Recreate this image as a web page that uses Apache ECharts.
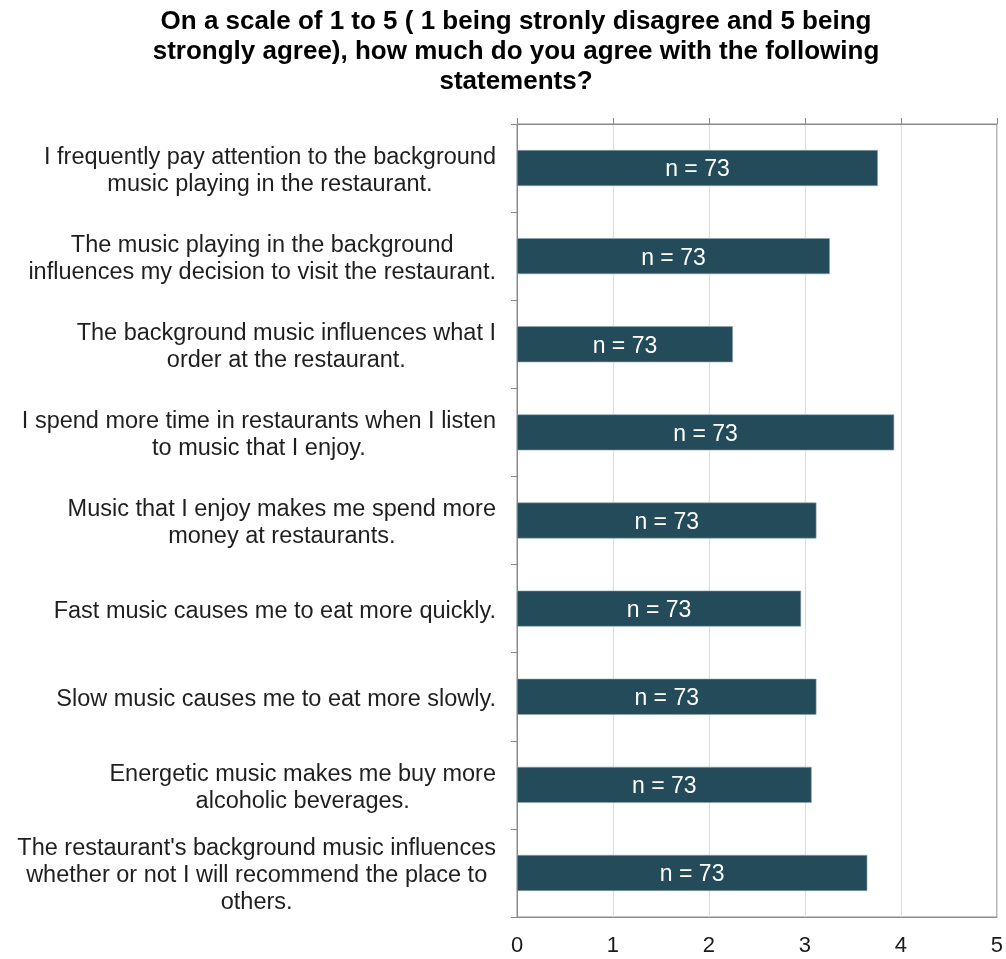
<!DOCTYPE html>
<html>
<head>
<meta charset="utf-8">
<script src="https://cdn.jsdelivr.net/npm/echarts@6/dist/echarts.min.js"></script>
<style>
  html, body { margin: 0; padding: 0; background: #fff; }
  #chart { width: 1006px; height: 959px; }
</style>
</head>
<body>
<div id="chart"></div>
<script>
// statements, top to bottom
var statements = [
    "I frequently pay attention to the background\nmusic playing in the restaurant.",
    "The music playing in the background\ninfluences my decision to visit the restaurant.",
    "The background music influences what I\norder at the restaurant.",
    "I spend more time in restaurants when I listen\nto music that I enjoy.",
    "Music that I enjoy makes me spend more\nmoney at restaurants.",
    "Fast music causes me to eat more quickly.",
    "Slow music causes me to eat more slowly.",
    "Energetic music makes me buy more\nalcoholic beverages.",
    "The restaurant's background music influences\nwhether or not I will recommend the place to\nothers."
];
// mean agreement score
var means = [3.76, 3.26, 2.25, 3.93, 3.12, 2.96, 3.12, 3.07, 3.65];
var respondents = [73, 73, 73, 73, 73, 73, 73, 73, 73];
var xTicks = [0, 1, 2, 3, 4, 5];

var chart = echarts.init(document.getElementById('chart'));
var font = "'Liberation Sans', Arial, sans-serif";
var axisGrey = '#8a8a8a';

chart.setOption({
    animation: false,
    textStyle: { fontFamily: font },
    title: {
        text: "On a scale of 1 to 5 ( 1 being stronly disagree and 5 being\nstrongly agree), how much do you agree with the following\nstatements?",
        left: 511,
        top: 2,
        textAlign: 'center',
        textStyle: {
            fontFamily: font,
            fontSize: 26,
            fontWeight: 'bold',
            color: '#000',
            lineHeight: 30
        }
    },
    grid: {
        left: 517,
        right: 7,
        top: 124,
        bottom: 42,
        show: true,
        borderColor: axisGrey,
        borderWidth: 1
    },
    xAxis: [{
        type: 'value',
        min: xTicks[0],
        max: xTicks[xTicks.length - 1],
        interval: 1,
        position: 'bottom',
        axisLine: { show: true, lineStyle: { color: axisGrey } },
        axisTick: { show: false },
        splitLine: { show: true, lineStyle: { color: '#dcdcdc' } },
        axisLabel: { color: '#1a1a1a', fontSize: 22, margin: 18 }
    }, {
        type: 'value',
        min: xTicks[0],
        max: xTicks[xTicks.length - 1],
        interval: 1,
        position: 'top',
        axisLine: { show: true, lineStyle: { color: axisGrey } },
        axisTick: { show: true, length: 6, lineStyle: { color: axisGrey } },
        splitLine: { show: false },
        axisLabel: { show: false }
    }],
    yAxis: {
        type: 'category',
        data: statements,
        inverse: true,
        axisLine: { show: true, lineStyle: { color: axisGrey } },
        axisTick: { show: true, length: 6, lineStyle: { color: axisGrey } },
        axisLabel: {
            margin: 21,
            align: 'right',
            padding: [6, 0, 0, 0],
            formatter: function (v) {
                return v.split('\n').map(function (s) { return '{c|' + s + '}'; }).join('\n');
            },
            rich: {
                c: { align: 'center', fontSize: 23.5, color: '#1f1f1f', lineHeight: 27, fontFamily: font }
            }
        }
    },
    series: [{
        type: 'bar',
        xAxisIndex: 0,
        data: means,
        barWidth: 36,
        itemStyle: {
            color: '#234b5a',
            borderColor: '#8fa8b0',
            borderWidth: 0.6
        },
        label: {
            show: true,
            position: 'inside',
            offset: [0, 2],
            color: '#fff',
            fontSize: 23,
            fontFamily: font,
            formatter: function (p) { return 'n = ' + respondents[p.dataIndex]; }
        }
    }]
});
</script>
</body>
</html>
